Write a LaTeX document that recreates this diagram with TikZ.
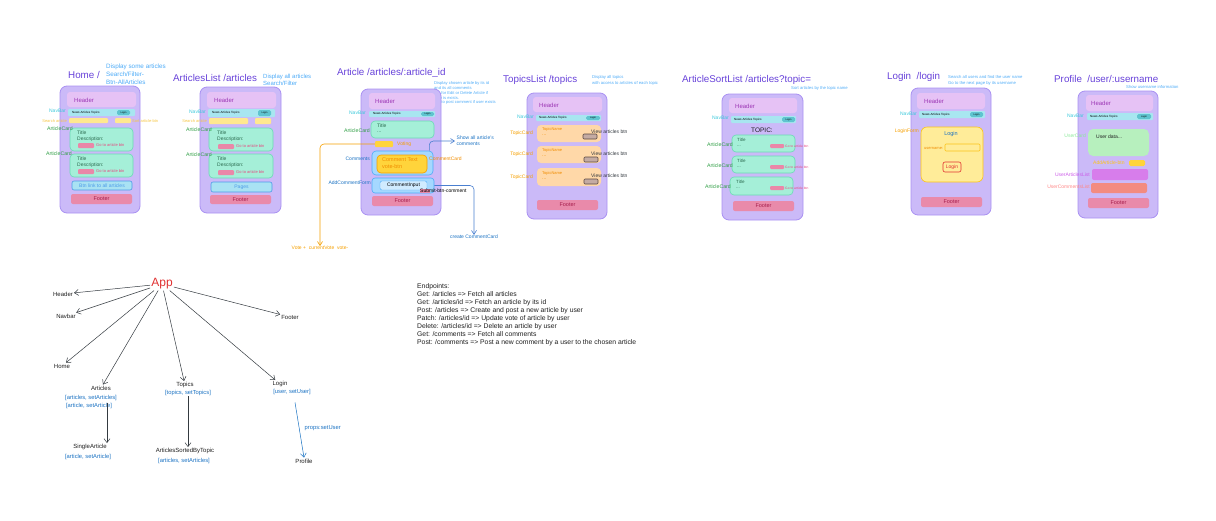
\documentclass[tikz,border=0pt]{standalone}
\usepackage{fontspec}
\setmainfont{Liberation Sans}
\usetikzlibrary{arrows.meta}

\definecolor{phonefill}{HTML}{CBBAF8}
\definecolor{phoneedge}{HTML}{A991F2}
\definecolor{headfill}{HTML}{E6C2F5}
\definecolor{headcol}{HTML}{9C36B5}
\definecolor{navfill}{HTML}{A8E6F0}
\definecolor{navbtnfill}{HTML}{5FC4CF}
\definecolor{navlblcol}{HTML}{3BC9DB}
\definecolor{searchfill}{HTML}{FFE88F}
\definecolor{srchcol}{HTML}{F5C542}
\definecolor{cardfill}{HTML}{A5EFD8}
\definecolor{cardedge}{HTML}{6ADBB5}
\definecolor{cardlblcol}{HTML}{2F9E44}
\definecolor{cardtxtcol}{HTML}{2B6B4F}
\definecolor{pinkfill}{HTML}{EA87A8}
\definecolor{gocol}{HTML}{E64980}
\definecolor{footfill}{HTML}{E98AAA}
\definecolor{footcol}{HTML}{A61E4D}
\definecolor{linkfill}{HTML}{A9E2F3}
\definecolor{linkedge}{HTML}{4D9BE8}
\definecolor{commfill}{HTML}{A5D8FF}
\definecolor{commedge}{HTML}{4DABF7}
\definecolor{ccardfill}{HTML}{FFD43B}
\definecolor{ccardedge}{HTML}{F59F00}
\definecolor{orangecol}{HTML}{F08C00}
\definecolor{cinputfill}{HTML}{D0EBFF}
\definecolor{topicfill}{HTML}{FFD8A8}
\definecolor{topicbtn}{HTML}{C4ABA3}
\definecolor{topicbtnedge}{HTML}{5C4A42}
\definecolor{loginfill}{HTML}{FFEC99}
\definecolor{loginedge}{HTML}{FCC419}
\definecolor{redcol}{HTML}{E03131}
\definecolor{usercardfill}{HTML}{B7F0BE}
\definecolor{usercardcol}{HTML}{8CE99A}
\definecolor{userartfill}{HTML}{D77DEB}
\definecolor{userartcol}{HTML}{CC5DE8}
\definecolor{usercommfill}{HTML}{F38B80}
\definecolor{usercommcol}{HTML}{FF8787}
\definecolor{ttlcol}{HTML}{6741D9}
\definecolor{dsccol}{HTML}{4DABF7}
\definecolor{treecol}{HTML}{1E1E1E}
\definecolor{statecol}{HTML}{1971C2}
\definecolor{arrcol}{HTML}{343A40}
\definecolor{bluearrcol}{HTML}{4A7FD0}

\begin{document}
\begin{tikzpicture}[x=1pt, y=-1pt,
  phone/.style={draw=phoneedge, fill=phonefill, line width=0.8pt, rounded corners=7},
  headbar/.style={fill=headfill, rounded corners=3},
  navbar/.style={fill=navfill, rounded corners=1},
  navbtn/.style={fill=navbtnfill, rounded corners=1.5},
  searchbar/.style={fill=searchfill, rounded corners=1},
  card/.style={draw=cardedge, fill=cardfill, line width=0.6pt, rounded corners=4},
  pinkbtn/.style={fill=pinkfill, rounded corners=1},
  linkbtn/.style={draw=linkedge, fill=linkfill, line width=0.6pt, rounded corners=2},
  footbar/.style={fill=footfill, rounded corners=2},
  topiccard/.style={fill=topicfill, rounded corners=4},
  topicbtnbox/.style={draw=topicbtnedge, fill=topicbtn, line width=0.6pt, rounded corners=1},
  pagettl/.style={anchor=west, inner sep=0, text=ttlcol, font=\fontsize{9.8}{12}\selectfont},
  pagedsc/.style={anchor=north west, inner sep=0, align=left, text=dsccol, font=\fontsize{6.3}{8}\selectfont},
  smalldsc/.style={anchor=north west, inner sep=0, align=left, text=dsccol, font=\fontsize{4.2}{6}\selectfont},
  headtxt/.style={anchor=west, inner sep=0, text=headcol, font=\fontsize{6}{7}\selectfont},
  navtxt/.style={anchor=west, inner sep=0, font=\fontsize{3}{3.5}\selectfont},
  navbtntxt/.style={inner sep=0, font=\fontsize{2.4}{3}\selectfont},
  navlbl/.style={anchor=east, inner sep=0, text=navlblcol, font=\fontsize{5}{6}\selectfont},
  srchlbl/.style={inner sep=0, text=srchcol, font=\fontsize{4}{5}\selectfont},
  cardlbl/.style={anchor=east, inner sep=0, text=cardlblcol, font=\fontsize{5.2}{6}\selectfont},
  cardtxt/.style={anchor=west, inner sep=0, text=cardtxtcol, font=\fontsize{5}{6}\selectfont},
  gotxt/.style={anchor=west, inner sep=0, text=gocol, font=\fontsize{4}{5}\selectfont},
  foottxt/.style={inner sep=0, text=footcol, font=\fontsize{5.5}{6}\selectfont},
  sidelbl/.style={inner sep=0, font=\fontsize{5}{6}\selectfont},
  treelbl/.style={inner sep=1, text=treecol, font=\fontsize{6}{7}\selectfont},
  statelbl/.style={inner sep=0.5, text=statecol, font=\fontsize{5.8}{7}\selectfont},
  treearr/.style={draw=arrcol, line width=0.5pt, -{Straight Barb[length=4pt,width=6pt]}},
  orangearr/.style={draw=ccardedge, line width=0.6pt, -{Straight Barb[length=4pt,width=5pt]}},
  bluearr/.style={draw=bluearrcol, line width=0.6pt, -{Straight Barb[length=4pt,width=5pt]}}]
\useasboundingbox (0,0) rectangle (1216,520);

% Home page
\node[pagettl] (home-ttl) at (68,75) {Home /};
\node[pagedsc] (home-dsc) at (106,63.5) {Display some articles\\Search/Filter-\\Btn-AllArticles};
\draw[phone] (60,86) rectangle (140,213);
\fill[headbar] (67,92) rectangle (136,107);
\node[headtxt] (home-head) at (74,100) {Header};
\fill[navbar] (68,109) rectangle (135,116);
\node[navtxt] (home-nav) at (72,112.5) {News Articles Topics};
\fill[navbtn] (117,110) rectangle (130,115);
\node[navbtntxt] (home-login) at (123.5,112.5) {Login};
\node[navlbl] (home-navlbl) at (66,111) {NavBar};
\fill[searchbar] (69,118) rectangle (108,123);
\fill[searchbar] (115,118) rectangle (131,123);
\node[srchlbl, anchor=east] (home-srch) at (67,121) {Search article};
\node[srchlbl, anchor=west] (home-sort) at (132,121) {Sort article-btn};
\draw[card] (70,128) rectangle (133,151);
\node[cardtxt] (home-t1) at (77,133) {Title};
\node[cardtxt] (home-d1) at (77,139) {Description:};
\fill[pinkbtn] (78,143) rectangle (94,148);
\node[gotxt] (home-go1) at (96,145.5) {Go to article btn};
\node[cardlbl] (home-lbl1) at (73,129) {ArticleCard};
\draw[card] (70,154) rectangle (133,177);
\node[cardtxt] (home-t2) at (77,159) {Title};
\node[cardtxt] (home-d2) at (77,165) {Description:};
\fill[pinkbtn] (78,169) rectangle (94,174);
\node[gotxt] (home-go2) at (96,171.5) {Go to article btn};
\node[cardlbl] (home-lbl2) at (72,154) {ArticleCard};
\draw[linkbtn] (72,181) rectangle (132,190);
\node[sidelbl, text=linkedge] (home-link) at (102,185.5) {Btn link to all articles};
\fill[footbar] (71,194) rectangle (132,204);
\node[foottxt] (home-foot) at (101.5,199) {Footer};

% ArticlesList page
\node[pagettl] (list-ttl) at (173,78) {ArticlesList /articles};
\node[pagedsc, font=\fontsize{6}{7}\selectfont] (list-dsc) at (263,74) {Display all articles\\Search/Filter};
\draw[phone] (200,87) rectangle (281,213);
\fill[headbar] (207,92) rectangle (276,108);
\node[headtxt] (list-head) at (214,100) {Header};
\fill[navbar] (208,109) rectangle (275,117);
\node[navtxt] (list-nav) at (212,113) {News Articles Topics};
\fill[navbtn] (258,110) rectangle (271,116);
\node[navbtntxt] (list-login) at (264.5,113) {Login};
\node[navlbl] (list-navlbl) at (206,112) {NavBar};
\fill[searchbar] (209,118) rectangle (248,124);
\fill[searchbar] (255,118) rectangle (271,124);
\node[srchlbl, anchor=east] (list-srch) at (207,121) {Search article};
\draw[card] (209,128) rectangle (273,151);
\node[cardtxt] (list-t1) at (217,133) {Title};
\node[cardtxt] (list-d1) at (217,139) {Description:};
\fill[pinkbtn] (218,144) rectangle (234,149);
\node[gotxt] (list-go1) at (236,146.5) {Go to article btn};
\node[cardlbl] (list-lbl1) at (212,130) {ArticleCard};
\draw[card] (209,154) rectangle (273,178);
\node[cardtxt] (list-t2) at (217,159) {Title};
\node[cardtxt] (list-d2) at (217,165) {Description:};
\fill[pinkbtn] (218,170) rectangle (234,175);
\node[gotxt] (list-go2) at (236,172.5) {Go to article btn};
\node[cardlbl] (list-lbl2) at (212,155) {ArticleCard};
\draw[linkbtn] (211,182) rectangle (272,192);
\node[sidelbl, text=linkedge] (list-pages) at (241.5,187) {Pages};
\fill[footbar] (210,195) rectangle (271,204);
\node[foottxt] (list-foot) at (240.5,199.5) {Footer};

% Article page
\node[pagettl] (art-ttl) at (337,73) {Article /articles/:article\_id};
\node[smalldsc, font=\fontsize{4.1}{4.8}\selectfont] (art-dsc) at (434,81.5) {Display chosen article by its id\\and its all comments\\Btn for Edit or Delete Article if\\user is exists.\\Btn to post comment if user exists};
\draw[phone] (361,89) rectangle (441,215);
\fill[headbar] (369,93) rectangle (435,109);
\node[headtxt] (art-head) at (375,101) {Header};
\fill[navbar] (369,111) rectangle (435,117);
\node[navtxt] (art-nav) at (373,114) {News Articles Topics};
\fill[navbtn] (421,112) rectangle (434,116);
\node[navbtntxt] (art-login) at (427.5,114) {Login};
\node[navlbl] (art-navlbl) at (366,113) {NavBar};
\draw[card] (371,121) rectangle (434,138);
\node[cardtxt] (art-t) at (377,126) {Title};
\node[cardtxt] (art-dots) at (377,132) {...};
\node[cardlbl] (art-lbl) at (370,131) {ArticleCard};
\node[fill=ccardfill, rounded corners=1, minimum width=18, minimum height=6, inner sep=0] (art-vote) at (384,144) {};
\node[sidelbl, anchor=west, text=ccardedge] (art-votetxt) at (397,144) {Voting};
\node[draw=commedge, fill=commfill, line width=0.6pt, rounded corners=4, minimum width=61, minimum height=24, inner sep=0] (art-comm) at (402.5,163) {};
\draw[draw=ccardedge, fill=ccardfill, line width=0.6pt, rounded corners=4] (377,155) rectangle (427,173);
\node[anchor=north west, inner sep=0, align=left, text=orangecol, font=\fontsize{5.5}{6.5}\selectfont] (art-ctext) at (382,157.5) {Comment Text\\vote-btn};
\node[sidelbl, anchor=east, text=statecol] (art-commlbl) at (370,159) {Comments};
\node[sidelbl, anchor=west, text=orangecol] (art-ccardlbl) at (429,159) {CommentCard};
\node[draw=commedge, fill=commfill, line width=0.6pt, rounded corners=3, minimum width=62, minimum height=15, inner sep=0] (art-form) at (403,185.5) {};
\draw[draw=commedge, fill=cinputfill, line width=0.4pt, rounded corners=2] (380,181) rectangle (427,190);
\node[sidelbl] (art-input) at (403.5,185.5) {CommentInput};
\node[sidelbl, anchor=east, text=statecol] (art-formlbl) at (371,183) {AddCommentForm};
\fill[footfill] (420,188.5) rectangle (430,193);
\node[sidelbl, anchor=west] (art-submit) at (420,191) {Submit-btn-comment};
\fill[footbar] (372,196) rectangle (433,206);
\node[foottxt] (art-foot) at (402.5,201) {Footer};
\node[sidelbl, text=ccardedge] (art-votelbl) at (320,248) {Vote +\ \ currentVote\ \ vote-};
\node[sidelbl, anchor=west, align=left, text=statecol, inner sep=1.5] (art-showlbl) at (455,141) {Show all article's\\comments};
\node[sidelbl, text=statecol] (art-createlbl) at (474,237) {create CommentCard};
\draw[orangearr, rounded corners=4] (art-vote.west) -| (art-votelbl.north);
\draw[bluearr, rounded corners=4] ([xshift=-4pt]art-comm.north east) |- (art-showlbl.west);
\draw[bluearr, rounded corners=4] (art-form.east) -| (art-createlbl.north);

% TopicsList page
\node[pagettl] (top-ttl) at (503,80) {TopicsList /topics};
\node[smalldsc] (top-dsc) at (592,75.5) {Display all topics\\with access to articles of each topic};
\draw[phone] (527,93) rectangle (607,219);
\fill[headbar] (533,97) rectangle (602,112);
\node[headtxt] (top-head) at (539,105) {Header};
\fill[navbar] (536,115) rectangle (601,121);
\node[navtxt] (top-nav) at (539,118) {News Articles Topics};
\fill[navbtn] (586,116) rectangle (600,120);
\node[navbtntxt] (top-login) at (593,118) {Login};
\node[navlbl] (top-navlbl) at (534,117) {NavBar};
\fill[topiccard] (537,125) rectangle (601,142);
\node[cardtxt, text=orangecol, font=\fontsize{4}{5}\selectfont] (top-n1) at (542,129) {TopicName};
\node[cardtxt, text=orangecol] (top-x1) at (542,135) {...};
\draw[topicbtnbox] (583,134) rectangle (597,139);
\node[sidelbl, anchor=west, text=arrcol] (top-v1) at (591,132) {View articles btn};
\node[sidelbl, anchor=east, text=ccardedge] (top-l1) at (533,133) {TopicCard};
\fill[topiccard] (537,146) rectangle (601,163);
\node[cardtxt, text=orangecol, font=\fontsize{4}{5}\selectfont] (top-n2) at (542,150) {TopicName};
\node[cardtxt, text=orangecol] (top-x2) at (542,156) {...};
\draw[topicbtnbox] (584,157) rectangle (598,162);
\node[sidelbl, anchor=west, text=arrcol] (top-v2) at (591,154) {View articles btn};
\node[sidelbl, anchor=east, text=ccardedge] (top-l2) at (533,154) {TopicCard};
\fill[topiccard] (537,168) rectangle (601,186);
\node[cardtxt, text=orangecol, font=\fontsize{4}{5}\selectfont] (top-n3) at (542,173) {TopicName};
\node[cardtxt, text=orangecol] (top-x3) at (542,179) {...};
\draw[topicbtnbox] (584,179) rectangle (598,184);
\node[sidelbl, anchor=west, text=arrcol] (top-v3) at (591,176) {View articles btn};
\node[sidelbl, anchor=east, text=ccardedge] (top-l3) at (533,177) {TopicCard};
\fill[footbar] (537,200) rectangle (598,210);
\node[foottxt] (top-foot) at (567.5,205) {Footer};

% ArticleSortList page
\node[pagettl] (sort-ttl) at (682,80) {ArticleSortList /articles?topic=};
\node[smalldsc, anchor=west] (sort-dsc) at (791,88) {Sort articles by the topic name};
\draw[phone] (722,94) rectangle (803,220);
\fill[headbar] (729,98) rectangle (797,113);
\node[headtxt] (sort-head) at (735,106) {Header};
\fill[navbar] (731,116) rectangle (796,123);
\node[navtxt] (sort-nav) at (734,119.5) {News Articles Topics};
\fill[navbtn] (782,117) rectangle (795,122);
\node[navbtntxt] (sort-login) at (788.5,119.5) {Login};
\node[navlbl] (sort-navlbl) at (729,118) {NavBar};
\node[sidelbl, font=\fontsize{6.5}{7}\selectfont, text=treecol] (sort-topic) at (762,130) {TOPIC:};
\draw[card] (732,135) rectangle (795,152);
\node[cardtxt, font=\fontsize{4.5}{5}\selectfont] (sort-t1) at (737,140) {Title};
\node[cardtxt, font=\fontsize{4.5}{5}\selectfont] (sort-x1) at (737,146) {...};
\fill[pinkbtn] (770,144) rectangle (784,148);
\node[gotxt, font=\fontsize{3.3}{4}\selectfont] (sort-go1) at (785,146) {Go to article btn};
\node[cardlbl] (sort-l1) at (733,145) {ArticleCard};
\draw[card] (732,156) rectangle (795,173);
\node[cardtxt, font=\fontsize{4.5}{5}\selectfont] (sort-t2) at (737,161) {Title};
\node[cardtxt, font=\fontsize{4.5}{5}\selectfont] (sort-x2) at (737,167) {...};
\fill[pinkbtn] (770,165) rectangle (784,169);
\node[gotxt, font=\fontsize{3.3}{4}\selectfont] (sort-go2) at (785,167) {Go to article btn};
\node[cardlbl] (sort-l2) at (733,166) {ArticleCard};
\draw[card] (730,177) rectangle (793,195);
\node[cardtxt, font=\fontsize{4.5}{5}\selectfont] (sort-t3) at (736,182) {Title};
\node[cardtxt, font=\fontsize{4.5}{5}\selectfont] (sort-x3) at (736,188) {...};
\fill[pinkbtn] (770,186) rectangle (784,190);
\node[gotxt, font=\fontsize{3.3}{4}\selectfont] (sort-go3) at (785,188) {Go to article btn};
\node[cardlbl] (sort-l3) at (731,187) {ArticleCard};
\fill[footbar] (733,201) rectangle (794,211);
\node[foottxt] (sort-foot) at (763.5,206) {Footer};

% Login page
\node[pagettl] (log-ttl) at (887,77) {Login\ \ /login};
\node[smalldsc] (log-dsc) at (948,75.5) {Search all users and find the user name\\Go to the next page by its username};
\draw[phone] (911,88) rectangle (991,215);
\fill[headbar] (917,93) rectangle (985,109);
\node[headtxt] (log-head) at (924,101) {Header};
\fill[navbar] (919,111) rectangle (985,118);
\node[navtxt] (log-nav) at (922,114.5) {News Articles Topics};
\fill[navbtn] (970,112) rectangle (983,117);
\node[navbtntxt] (log-login) at (976.5,114.5) {Login};
\node[navlbl] (log-navlbl) at (917,114) {NavBar};
\draw[draw=loginedge, fill=loginfill, line width=0.6pt, rounded corners=6] (921,127) rectangle (983,182);
\node[sidelbl, font=\fontsize{5.5}{6}\selectfont, text=statecol] (log-formttl) at (951,134) {Login};
\node[sidelbl, anchor=west, font=\fontsize{4}{5}\selectfont, text=orangecol] (log-user) at (924,148) {username:};
\draw[draw=loginedge, fill=loginfill, line width=0.6pt, rounded corners=1] (945,144) rectangle (980,151);
\draw[draw=redcol, fill=loginfill, line width=0.6pt, rounded corners=2] (943,162) rectangle (961,172);
\node[sidelbl, text=redcol] (log-btn) at (952,167) {Login};
\node[sidelbl, anchor=east, text=ccardedge] (log-formlbl) at (919,131) {LoginForm};
\fill[footbar] (921,197) rectangle (982,207);
\node[foottxt] (log-foot) at (951.5,202) {Footer};

% Profile page
\node[pagettl] (prof-ttl) at (1054,79) {Profile\ \ /user/:username};
\node[smalldsc, anchor=west] (prof-dsc) at (1126,87) {Show username information};
\draw[phone] (1078,91) rectangle (1158,218);
\fill[headbar] (1086,95) rectangle (1153,111);
\node[headtxt] (prof-head) at (1091,103) {Header};
\fill[navbar] (1087,113) rectangle (1153,120);
\node[navtxt] (prof-nav) at (1090,116.5) {News Articles Topics};
\fill[navbtn] (1137,114) rectangle (1151,119);
\node[navbtntxt] (prof-login) at (1144,116.5) {Login};
\node[navlbl] (prof-navlbl) at (1084,116) {NavBar};
\fill[usercardfill, rounded corners=5] (1088,129) rectangle (1149,156);
\node[sidelbl, anchor=west, text=treecol] (prof-data) at (1096,137) {User data...};
\node[sidelbl, anchor=east, text=usercardcol] (prof-cardlbl) at (1086,136) {UserCard};
\node[sidelbl, anchor=west, text=loginedge] (prof-add) at (1093,163) {AddArticle-btn};
\fill[ccardfill, rounded corners=1.5] (1129,160) rectangle (1145,166);
\fill[userartfill, rounded corners=2] (1092,169) rectangle (1148,180);
\node[sidelbl, anchor=east, text=userartcol] (prof-artlbl) at (1090,175) {UserArticlesList};
\fill[usercommfill, rounded corners=2] (1091,183) rectangle (1147,193);
\node[sidelbl, anchor=east, text=usercommcol] (prof-commlbl) at (1090,187) {UserCommentsList};
\fill[footbar] (1088,198) rectangle (1149,208);
\node[foottxt] (prof-foot) at (1118.5,203) {Footer};

% Component tree
\node[inner sep=1, text=redcol, font=\fontsize{12}{14}\selectfont] (app) at (162,284) {App};
\node[treelbl] (t-header) at (63,294) {Header};
\node[treelbl] (t-navbar) at (66,316) {Navbar};
\node[treelbl] (t-home) at (62,366) {Home};
\node[treelbl] (t-footer) at (290,317) {Footer};
\node[treelbl] (t-articles) at (101,388) {Articles};
\node[statelbl] (t-artst1) at (91,398) {[articles, setArticles]};
\node[statelbl] (t-artst2) at (89,406) {[article, setArticle]};
\node[treelbl] (t-topics) at (185,385) {Topics};
\node[statelbl] (t-topst) at (188,393) {[topics, setTopics]};
\node[treelbl] (t-login) at (280,384) {Login};
\node[statelbl] (t-logst) at (292,392) {[user, setUser]};
\node[treelbl] (t-single) at (90,447) {SingleArticle};
\node[statelbl] (t-singst) at (88,457) {[article, setArticle]};
\node[treelbl] (t-sorted) at (185,451) {ArticlesSortedByTopic};
\node[statelbl] (t-sortst) at (184,461) {[articles, setArticles]};
\node[treelbl] (t-profile) at (304,461) {Profile};
\node[statelbl, anchor=west] (t-props) at (304,428) {props:setUser};

\draw[treearr] (app) -- (t-header);
\draw[treearr] (app) -- (t-navbar);
\draw[treearr] (app) -- (t-home);
\draw[treearr] (app) -- (t-articles);
\draw[treearr] (app) -- (t-topics);
\draw[treearr] (app) -- (t-login);
\draw[treearr] (app) -- (t-footer);
\draw[treearr] ([xshift=18pt]t-artst2.north) -- ([xshift=17pt]t-single.north);
\draw[treearr] (t-topst.south) -- (t-topst.south |- t-sorted.north);
\draw[treearr, draw=statecol] ([xshift=3pt,yshift=-7pt]t-logst.south) -- (t-profile.north);

% Endpoints
\node[anchor=north west, inner sep=0, align=left, text=treecol, font=\fontsize{6.8}{8}\selectfont] (endpoints) at (417,283) {Endpoints:\\
Get: /articles => Fetch all articles\\
Get: /articles/id => Fetch an article by its id\\
Post: /articles => Create and post a new article by user\\
Patch: /articles/id => Update vote of article by user\\
Delete: /articles/id => Delete an article by user\\
Get: /comments => Fetch all comments\\
Post: /comments => Post a new comment by a user to the chosen article};

\end{tikzpicture}
\end{document}
